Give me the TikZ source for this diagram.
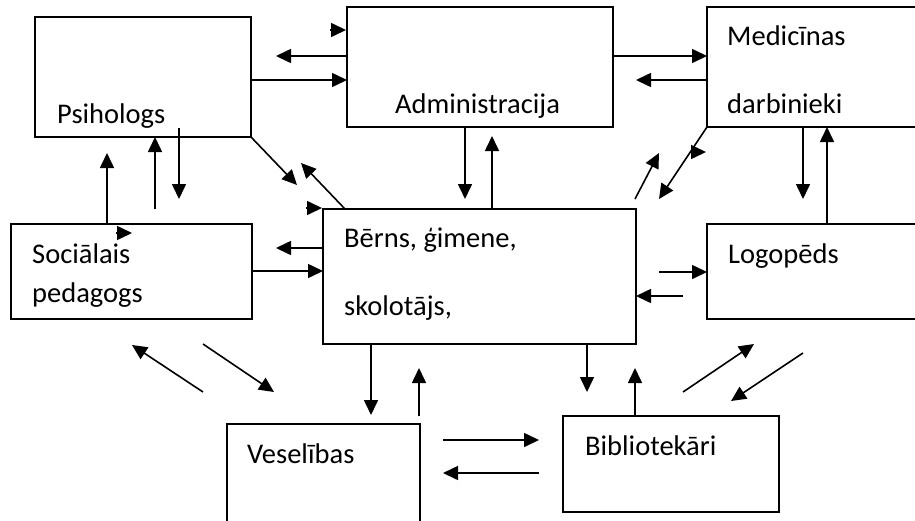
\documentclass[tikz,border=0pt]{standalone}
\usepackage{fontspec}
\setmainfont{Carlito}
\usetikzlibrary{arrows.meta}
\tikzset{
  box/.style={draw, line width=1.6pt, rectangle, inner sep=0pt, outer sep=0pt},
  lbl/.style={anchor=base west, inner sep=0pt, font=\fontsize{28.5}{34}\selectfont},
  arr/.style={line width=1.6pt, -{Triangle[length=15pt,width=14pt]}},
}
\begin{document}
\begin{tikzpicture}[x=1pt,y=-1pt]
\useasboundingbox (0,0) rectangle (915,520);
% boxes
\node[box, minimum width=216pt, minimum height=120pt] (psi) at (143,77) {};
\node[box, minimum width=266pt, minimum height=120pt] (adm) at (480,67) {};
\node[box, minimum width=218pt, minimum height=120pt] (med) at (816,67) {};
\node[box, minimum width=241pt, minimum height=95pt] (soc) at (131.5,271.5) {};
\node[box, minimum width=313pt, minimum height=135pt] (ber) at (479.5,276.5) {};
\node[box, minimum width=218pt, minimum height=95pt] (logo) at (816,271.5) {};
\node[box, minimum width=193pt, minimum height=106pt] (ves) at (323.5,477) {};
\node[box, minimum width=216pt, minimum height=96pt] (bib) at (671,464) {};
% labels
\begin{scope}
\clip (36,18) rectangle (250,127);
\node[lbl] (tpsi) at (57,123) {Psihologs};
\end{scope}
\node[lbl] (tadm) at (395,113) {Administracija};
\node[lbl] (tmed1) at (727,45) {Medicīnas};
\node[lbl] (tmed2) at (727,113) {darbinieki};
\node[lbl] (tsoc1) at (32,263) {Sociālais};
\node[lbl] (tsoc2) at (32,302) {pedagogs};
\node[lbl] (tber1) at (344,247) {Bērns, ģimene,};
\node[lbl] (tber2) at (344,315) {skolotājs,};
\node[lbl] (tlogo) at (728,263) {Logopēds};
\node[lbl] (tves) at (247,463) {Veselības};
\node[lbl] (tbib) at (585,455) {Bibliotekāri};
% free-end coordinates
\coordinate (a1) at (276,56);
\coordinate (a2) at (636,80);
\coordinate (a3) at (465,199);
\coordinate (a4) at (492,136);
\coordinate (a5) at (297,185);
\coordinate (a6s) at (345,209);
\coordinate (a6) at (301,163);
\coordinate (a7) at (107,153);
\coordinate (a8s) at (155,209);
\coordinate (a9s) at (179,128);
\coordinate (a9) at (179,199);
\coordinate (a10) at (276,248);
\coordinate (b1s) at (203,392);
\coordinate (b1) at (132,345);
\coordinate (b2s) at (203,344);
\coordinate (b2) at (274,392);
\coordinate (b3) at (371,415);
\coordinate (b4s) at (419,416);
\coordinate (b4) at (419,368);
\coordinate (b5) at (587,392);
\coordinate (b6) at (635,368);
\coordinate (c1s) at (443,440);
\coordinate (c1) at (539,440);
\coordinate (c2s) at (539,473);
\coordinate (c2) at (443,473);
\coordinate (c3s) at (659,272);
\coordinate (c4s) at (683,296);
\coordinate (c5s) at (683,392);
\coordinate (c5) at (754,344);
\coordinate (c6s) at (803,353);
\coordinate (c6) at (731,401);
\coordinate (d1) at (803,199);
\coordinate (d2s) at (635,199);
\coordinate (d2) at (659,153);
\coordinate (d3) at (659,199);
% isolated arrowheads
\coordinate (i1s) at (330,30); \coordinate (i1) at (346,30);
\coordinate (i2s) at (306,208); \coordinate (i2) at (322,208);
\coordinate (i3s) at (116,233); \coordinate (i3) at (132,233);
\coordinate (i4s) at (690,152); \coordinate (i4) at (706,152);
% connectors
\draw[arr] (i1s) -- (i1);
\draw[arr] (adm.west |- 0,56) -- (a1);
\draw[arr] (psi.east |- 0,80) -- (adm.west |- 0,80);
\draw[arr] (adm.east |- 0,56) -- (med.west |- 0,56);
\draw[arr] (med.west |- 0,80) -- (a2);
\draw[arr] (465,0 |- adm.south) -- (a3);
\draw[arr] (492,0 |- ber.north) -- (a4);
\draw[arr] (psi.south east) -- (a5);
\draw[arr] (a6s) -- (a6);
\draw[arr] (i2s) -- (i2);
\draw[arr] (107,0 |- soc.north) -- (a7);
\draw[arr] (a8s) -- (155,0 |- psi.south);
\draw[arr] (a9s) -- (a9);
\draw[arr] (i3s) -- (i3);
\draw[arr] (ber.west |- 0,248) -- (a10);
\draw[arr] (soc.east |- 0,271) -- (ber.west |- 0,271);
\draw[arr] (b1s) -- (b1);
\draw[arr] (b2s) -- (b2);
\draw[arr] (371,0 |- ber.south) -- (b3);
\draw[arr] (b4s) -- (b4);
\draw[arr] (587,0 |- ber.south) -- (b5);
\draw[arr] (635,0 |- bib.north) -- (b6);
\draw[arr] (c1s) -- (c1);
\draw[arr] (c2s) -- (c2);
\draw[arr] (c3s) -- (logo.west |- 0,272);
\draw[arr] (c4s) -- (ber.east |- 0,296);
\draw[arr] (c5s) -- (c5);
\draw[arr] (c6s) -- (c6);
\draw[arr] (803,0 |- med.south) -- (d1);
\draw[arr] (827,0 |- logo.north) -- (827,0 |- med.south);
\draw[arr] (d2s) -- (d2);
\draw[arr] (med.south west) -- (d3);
\draw[arr] (i4s) -- (i4);
\end{tikzpicture}
\end{document}
